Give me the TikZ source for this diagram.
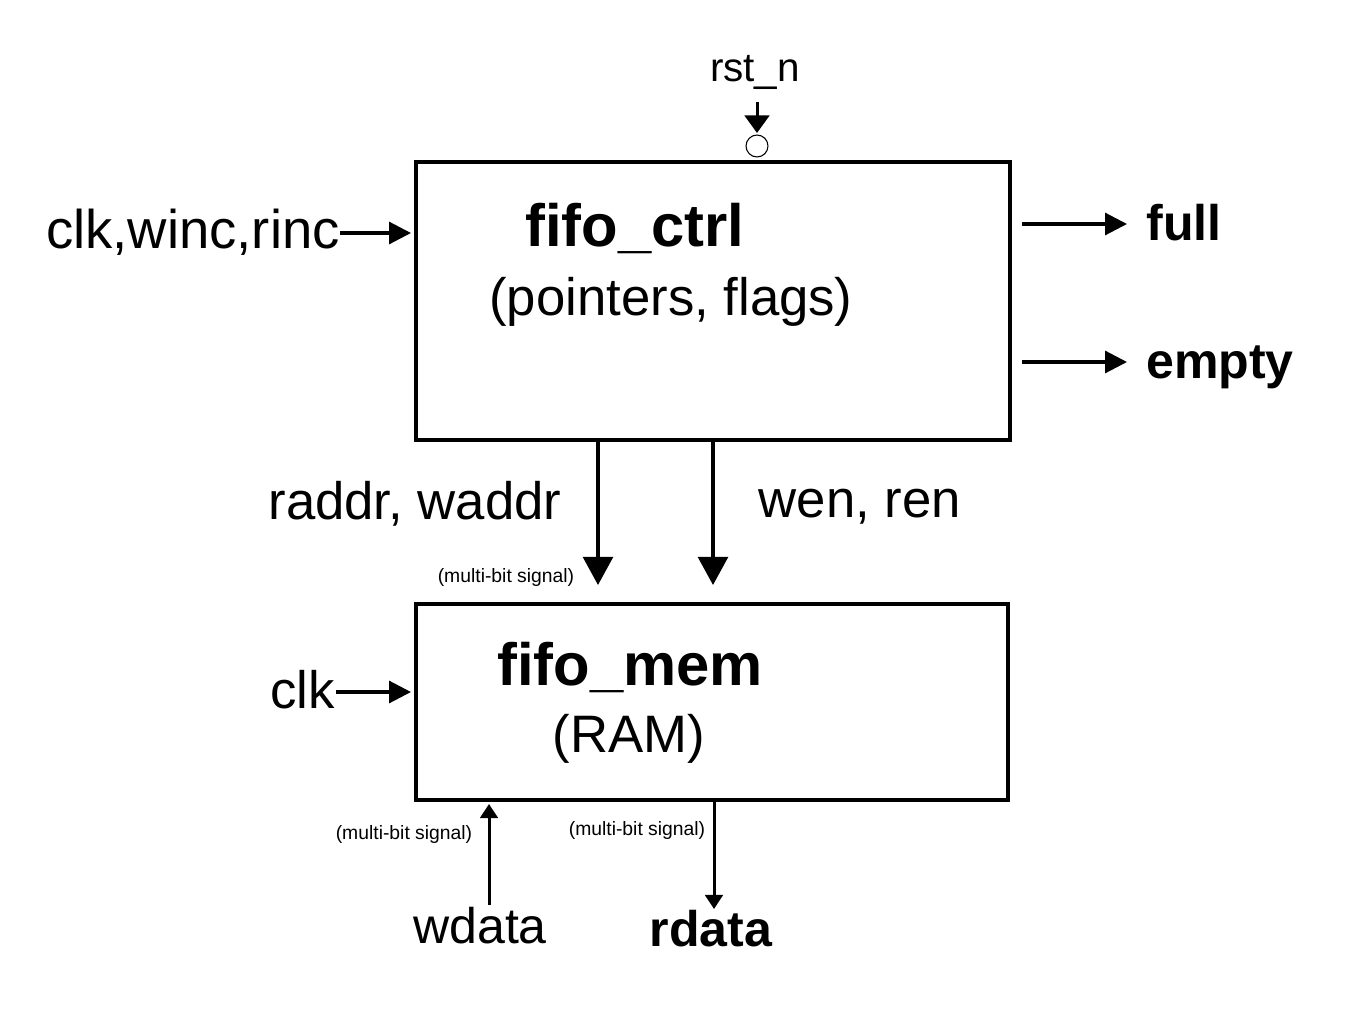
\documentclass[tikz,border=0pt]{standalone}
\usepackage{fontspec}
\setmainfont{Liberation Sans}
\usetikzlibrary{arrows.meta}
\tikzset{
  blk/.style={draw=black, line width=2.3pt, inner sep=0pt},
  bigfont/.style={font=\fontsize{34}{38}\selectfont\bfseries},
  midfont/.style={font=\fontsize{30}{34}\selectfont},
  cwrfont/.style={font=\fontsize{31}{34}\selectfont},
  sigfont/.style={font=\fontsize{28.5}{32}\selectfont},
  sigbold/.style={font=\fontsize{28.5}{32}\selectfont\bfseries},
  tinyfont/.style={font=\fontsize{11}{13}\selectfont},
  rstfont/.style={font=\fontsize{23}{26}\selectfont},
  lbl/.style={inner sep=0pt, anchor=base},
  bigarr/.style={line width=1.8pt, -{Triangle[length=16pt,width=17pt]}},
  medarr/.style={line width=1.8pt, -{Triangle[length=12.5pt,width=12.5pt]}},
  smallarr/.style={line width=1.7pt, -{Triangle[length=8pt,width=10pt]}},
  rstarr/.style={line width=1.7pt, -{Triangle[length=10pt,width=14pt]}},
}
\begin{document}
\begin{tikzpicture}[x=0.02cm,y=-0.02cm]
\useasboundingbox (0,0) rectangle (1365,1024);
\fill[white] (0,0) rectangle (1365,1024);

% blocks
\draw[blk] (416,162) rectangle (1010,440);
\draw[blk] (416,604) rectangle (1008,800);

% block titles
\node[lbl, bigfont] (ctrlT) at (635,246) {fifo\_ctrl};
\node[lbl, midfont] (ctrlS) at (671,315) {(pointers, flags)};
\node[lbl, bigfont] (memT) at (630,685) {fifo\_mem};
\node[lbl, midfont] (memS) at (629,752) {(RAM)};

% rst_n
\node[lbl, rstfont] (rst) at (755,82) {rst\_n};
\coordinate (rstA) at (757,102);
\coordinate (rstB) at (757,133);
\draw[rstarr] (rstA) -- (rstB);
\node[draw=black, line width=0.6pt, circle, inner sep=0pt, minimum size=12.5pt] (bub) at (757,146) {};

% clk,winc,rinc
\node[lbl, cwrfont, anchor=base east] (cwr) at (340,248) {clk,winc,rinc};
\coordinate (cwrA) at (340,233);
\coordinate (cwrB) at (411,233);
\draw[medarr] (cwrA) -- (cwrB);

% full / empty
\coordinate (fullA) at (1022,224);
\coordinate (fullB) at (1127,224);
\draw[medarr] (fullA) -- (fullB);
\node[lbl, sigbold, anchor=base west] (full) at (1146,240) {full};
\coordinate (empA) at (1022,362);
\coordinate (empB) at (1127,362);
\draw[medarr] (empA) -- (empB);
\node[lbl, sigbold, anchor=base west] (empty) at (1146,378) {empty};

% raddr/waddr and wen/ren
\coordinate (raA) at (598,440);
\coordinate (raB) at (598,585);
\draw[bigarr] (raA) -- (raB);
\coordinate (weA) at (713,440);
\coordinate (weB) at (713,585);
\draw[bigarr] (weA) -- (weB);
\node[lbl, midfont] (raddr) at (415,519) {raddr, waddr};
\node[lbl, midfont] (wen) at (860,517) {wen, ren};
\node[lbl, tinyfont] (mb1) at (506,582) {(multi-bit signal)};

% clk to mem
\node[lbl, midfont, anchor=base east] (clk) at (335,708) {clk};
\coordinate (clkA) at (336,692);
\coordinate (clkB) at (411,692);
\draw[medarr] (clkA) -- (clkB);

% wdata / rdata
\coordinate (wdA) at (489,905);
\coordinate (wdB) at (489,804);
\draw[smallarr] (wdA) -- (wdB);
\node[lbl, sigfont] (wdata) at (480,943) {wdata};
\node[lbl, tinyfont] (mb2) at (404,839) {(multi-bit signal)};
\coordinate (rdA) at (714,800);
\coordinate (rdB) at (714,909);
\draw[smallarr] (rdA) -- (rdB);
\node[lbl, sigbold] (rdata) at (711,946) {rdata};
\node[lbl, tinyfont] (mb3) at (637,835) {(multi-bit signal)};
\end{tikzpicture}
\end{document}
